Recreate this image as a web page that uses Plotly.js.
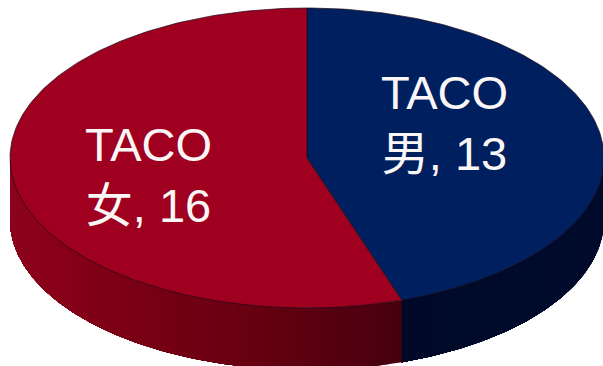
<!DOCTYPE html>
<html>
<head>
<meta charset="utf-8">
<script src="https://cdn.plot.ly/plotly-3.0.1.min.js"></script>
<style>html,body{margin:0;padding:0;background:#fff}#chart{width:603px;height:366px}</style>
</head>
<body>
<div id="chart"></div>
<script>
// Slices, clockwise from twelve o'clock
const categories = ['TACO 男', 'TACO 女'];
const values = [13, 16];
const topColors = ['#001f5f', '#a0001f'];
const sideRamps = [
  [[0, 10, 44], [0, 10, 40]],
  [[72, 0, 14], [110, 0, 18], [136, 0, 24], [140, 4, 30]]
];
const rimColor = '#1c0a18';
const labelPositions = [[444, 123], [148, 175]];

// Unit pie mapped on to the page: x = cx + rx*X, y = cy - ry*Y
const W = 603, H = 366, cx = 307, cy = 158, rx = 297, ry = 150, depth = 62;
const xRange = [-cx / rx, (W - cx) / rx];
const yRange = [(cy - H) / ry, cy / ry];
const drop = depth / ry;

const total = values.reduce((a, b) => a + b, 0);
const TAU = Math.PI * 2;
const X = t => Math.sin(t), Y = t => Math.cos(t);

function arc(a0, a1, stepDeg) {
  const n = Math.max(2, Math.ceil(Math.abs(a1 - a0) / (stepDeg * Math.PI / 180)));
  const out = [];
  for (let i = 0; i <= n; i++) out.push(a0 + (a1 - a0) * i / n);
  return out;
}

function ramp(stops, f) {
  const p = Math.min(0.9999, Math.max(0, f)) * (stops.length - 1);
  const i = Math.floor(p), k = p - i;
  const c = stops[i].map((v, j) => Math.round(v + (stops[i + 1][j] - v) * k));
  return `rgb(${c.join(',')})`;
}

const traces = [];
const annotations = [];
let start = 0;
const angles = values.map(v => {
  const a = [start, start + v / total * TAU];
  start = a[1];
  return a;
});

// Extruded wall: only the front half of the disc shows it. Each band runs on
// to the end of its slice and the next band paints over it, so no seams show.
angles.forEach(([a0, a1], s) => {
  const lo = Math.max(a0, Math.PI / 2), hi = Math.min(a1, Math.PI * 1.5);
  if (hi <= lo) return;
  const cuts = arc(lo, hi, 2.5);
  for (let i = 0; i < cuts.length - 1; i++) {
    const seg = arc(cuts[i], hi, 0.5);
    const xs = seg.map(X).concat(seg.slice().reverse().map(X));
    const ys = seg.map(Y).concat(seg.slice().reverse().map(t => Y(t) - drop));
    traces.push({
      type: 'scatter', mode: 'lines', x: xs, y: ys, fill: 'toself',
      fillcolor: ramp(sideRamps[s], (cuts[i] - lo) / (hi - lo)),
      line: {width: 0}, hoverinfo: 'skip', showlegend: false
    });
  }
});

// Seam between the slices on the wall
const seam = angles[0][1];
traces.push({
  type: 'scatter', mode: 'lines', x: [X(seam), X(seam)], y: [Y(seam), Y(seam) - drop],
  line: {color: rimColor, width: 0.6}, hoverinfo: 'skip', showlegend: false
});

// Top face
angles.forEach(([a0, a1], s) => {
  const seg = arc(a0, a1, 1);
  traces.push({
    type: 'scatter', mode: 'lines',
    x: [0].concat(seg.map(X), [0]),
    y: [0].concat(seg.map(Y), [0]),
    fill: 'toself', fillcolor: topColors[s],
    line: {color: rimColor, width: 0.7},
    name: categories[s], hoverinfo: 'name', showlegend: false
  });
  const [series, gender] = categories[s].split(' ');
  annotations.push({
    x: (labelPositions[s][0] - cx) / rx,
    y: (cy - labelPositions[s][1]) / ry,
    xref: 'x', yref: 'y', showarrow: false, align: 'center',
    text: `${series}<br>${gender}, ${values[s]}`,
    font: {family: '"Liberation Sans", "Noto Sans CJK SC", sans-serif', size: 47, color: '#fbf6f6'}
  });
});

const hidden = {visible: false, fixedrange: true};
Plotly.newPlot('chart', traces, {
  width: W, height: H,
  margin: {l: 0, r: 0, t: 0, b: 0},
  paper_bgcolor: '#fff', plot_bgcolor: '#fff',
  xaxis: Object.assign({range: xRange}, hidden),
  yaxis: Object.assign({range: yRange}, hidden),
  annotations: annotations
}, {displayModeBar: false, staticPlot: true});
</script>
</body>
</html>
